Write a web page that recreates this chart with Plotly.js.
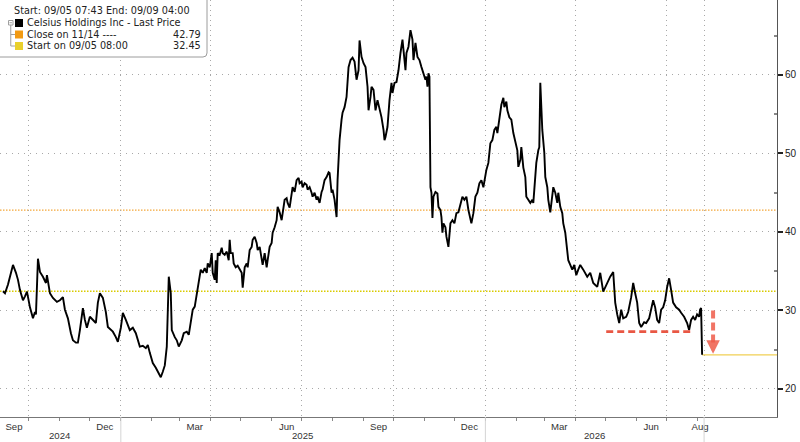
<!DOCTYPE html>
<html><head><meta charset="utf-8">
<script src="https://cdn.plot.ly/plotly-3.0.1.min.js"></script>
<style>html,body{margin:0;padding:0;background:#fff;} #chart{width:800px;height:442px;}</style>
</head><body><div id="chart"></div>
<script>
// ---- data ----
const dates = [
 '2024-09-05','2024-09-07','2024-09-10','2024-09-13','2024-09-15','2024-09-18','2024-09-20','2024-09-22','2024-09-25','2024-09-27','2024-09-29',
 '2024-10-02','2024-10-05','2024-10-07','2024-10-08','2024-10-10','2024-10-12','2024-10-15','2024-10-18','2024-10-19','2024-10-22','2024-10-25','2024-10-29',
 '2024-11-01','2024-11-04','2024-11-06','2024-11-09','2024-11-12','2024-11-14','2024-11-17','2024-11-19','2024-11-21','2024-11-24','2024-11-26','2024-11-28',
 '2024-12-01','2024-12-04','2024-12-07','2024-12-09','2024-12-11','2024-12-14','2024-12-17','2024-12-19','2024-12-22','2024-12-24','2024-12-27','2024-12-29',
 '2025-01-01','2025-01-03','2025-01-06','2025-01-10','2025-01-13','2025-01-16','2025-01-20','2025-01-23','2025-01-26','2025-01-28','2025-01-30',
 '2025-02-02','2025-02-05','2025-02-08','2025-02-10','2025-02-12','2025-02-14','2025-02-16','2025-02-18','2025-02-20','2025-02-21','2025-02-24','2025-02-26','2025-02-28',
 '2025-03-03','2025-03-05','2025-03-08','2025-03-10','2025-03-12','2025-03-14','2025-03-16','2025-03-18','2025-03-20','2025-03-22','2025-03-24','2025-03-26','2025-03-28','2025-03-29','2025-03-31',
 '2025-04-02','2025-04-03','2025-04-05','2025-04-06','2025-04-07','2025-04-08','2025-04-10','2025-04-12','2025-04-13','2025-04-15','2025-04-17','2025-04-19','2025-04-20','2025-04-21','2025-04-23','2025-04-24','2025-04-26','2025-04-28','2025-04-30',
 '2025-05-02','2025-05-03','2025-05-05','2025-05-07','2025-05-08','2025-05-10','2025-05-12','2025-05-13','2025-05-15','2025-05-17','2025-05-18','2025-05-20','2025-05-22','2025-05-23','2025-05-25','2025-05-27','2025-05-28','2025-05-30',
 '2025-06-01','2025-06-02','2025-06-04','2025-06-06','2025-06-07','2025-06-09','2025-06-11','2025-06-12','2025-06-14','2025-06-16','2025-06-17','2025-06-19','2025-06-21','2025-06-22','2025-06-24','2025-06-26','2025-06-28','2025-06-29',
 '2025-07-01','2025-07-02','2025-07-04','2025-07-06','2025-07-07','2025-07-09','2025-07-11','2025-07-12','2025-07-14','2025-07-16','2025-07-17','2025-07-19','2025-07-21','2025-07-22','2025-07-24','2025-07-26','2025-07-28','2025-07-29','2025-07-31',
 '2025-08-01','2025-08-03','2025-08-04','2025-08-05','2025-08-06','2025-08-07','2025-08-08','2025-08-10','2025-08-11','2025-08-13','2025-08-15','2025-08-17','2025-08-19','2025-08-21','2025-08-23','2025-08-25','2025-08-27','2025-08-28','2025-08-30',
 '2025-09-01','2025-09-03','2025-09-05','2025-09-06','2025-09-08','2025-09-09','2025-09-11','2025-09-13','2025-09-15','2025-09-17','2025-09-19','2025-09-21','2025-09-22','2025-09-23','2025-09-25','2025-09-27','2025-09-29','2025-09-30',
 '2025-10-02','2025-10-04','2025-10-06','2025-10-08','2025-10-10','2025-10-11','2025-10-13','2025-10-14','2025-10-16','2025-10-18','2025-10-20','2025-10-21','2025-10-23','2025-10-25','2025-10-27','2025-10-29','2025-10-31',
 '2025-11-02','2025-11-03','2025-11-04','2025-11-05','2025-11-06','2025-11-07','2025-11-08','2025-11-09','2025-11-10','2025-11-12','2025-11-14','2025-11-15','2025-11-17','2025-11-18','2025-11-19','2025-11-20','2025-11-22','2025-11-23','2025-11-25','2025-11-27','2025-11-29',
 '2025-12-01','2025-12-03','2025-12-05','2025-12-07','2025-12-09','2025-12-11','2025-12-13','2025-12-15','2025-12-17','2025-12-18','2025-12-20','2025-12-22','2025-12-24','2025-12-26','2025-12-28','2025-12-30',
 '2026-01-02','2026-01-04','2026-01-06','2026-01-08','2026-01-10','2026-01-12','2026-01-13','2026-01-15','2026-01-17','2026-01-19','2026-01-20','2026-01-22','2026-01-23','2026-01-25','2026-01-27','2026-01-29','2026-01-31',
 '2026-02-02','2026-02-03','2026-02-05','2026-02-06','2026-02-08','2026-02-10','2026-02-11','2026-02-13','2026-02-15','2026-02-17','2026-02-18','2026-02-19','2026-02-21','2026-02-23','2026-02-24','2026-02-25','2026-02-26','2026-02-27',
 '2026-03-01','2026-03-02','2026-03-04','2026-03-05','2026-03-07','2026-03-09','2026-03-10','2026-03-12','2026-03-14','2026-03-15','2026-03-17','2026-03-19','2026-03-20','2026-03-22','2026-03-24','2026-03-25','2026-03-27','2026-03-29','2026-03-31',
 '2026-04-02','2026-04-04','2026-04-06','2026-04-09','2026-04-13','2026-04-16','2026-04-19','2026-04-23','2026-04-26','2026-04-29',
 '2026-05-03','2026-05-06','2026-05-09','2026-05-11','2026-05-13','2026-05-15','2026-05-17','2026-05-19','2026-05-22','2026-05-24','2026-05-27','2026-05-29','2026-05-31',
 '2026-06-02','2026-06-04','2026-06-06','2026-06-09','2026-06-11','2026-06-14','2026-06-16','2026-06-18','2026-06-20','2026-06-22','2026-06-24','2026-06-26','2026-06-28','2026-06-30',
 '2026-07-02','2026-07-04','2026-07-06','2026-07-08','2026-07-11','2026-07-14','2026-07-16','2026-07-19','2026-07-22','2026-07-24','2026-07-26','2026-07-28','2026-07-30',
 '2026-08-01','2026-08-03','2026-08-04','2026-08-05','2026-08-06'
];
const prices = [
 32.45,32.2,33.3,34.6,35.8,34.8,33.9,32.6,31.3,31.8,32.4,
 30.4,29.0,29.8,29.5,36.6,34.9,34.3,33.5,34.5,32.2,31.6,31.1,
 31.3,31.7,30.1,29.0,27.1,26.2,25.9,25.9,27.5,30.3,28.8,27.8,
 29.2,28.8,28.4,31.0,32.2,31.6,29.8,27.9,27.5,27.3,26.6,26.0,
 27.8,29.7,28.8,27.5,27.8,27.1,25.4,25.5,25.2,25.6,24.6,
 23.3,22.7,22.0,21.5,22.2,23.0,25.4,34.3,32.2,27.5,26.6,26.2,25.4,
 26.2,27.1,27.3,26.9,28.8,30.1,30.5,32.2,33.9,35.2,34.8,35.4,34.8,36.0,35.5,
 37.3,34.8,33.9,36.4,33.5,37.3,37.1,38.0,37.3,37.1,37.5,36.4,39.0,37.3,37.3,36.0,35.5,35.7,35.2,
 34.8,32.9,35.5,36.0,35.5,37.7,38.1,39.0,39.4,38.6,37.7,38.1,36.4,35.8,37.3,35.5,36.4,38.1,
 38.6,39.9,40.6,41.5,43.2,42.5,41.5,42.4,44.1,44.3,43.7,43.1,44.5,45.7,45.1,46.6,46.9,46.2,
 46.4,45.7,46.2,46.0,45.4,45.7,45.0,44.5,45.0,44.1,44.5,43.7,45.1,45.4,46.6,47.0,47.6,47.5,45.0,
 45.4,44.1,42.8,41.9,46.6,50.1,51.7,54.3,55.2,55.9,57.2,61.0,61.9,62.2,61.7,59.4,60.6,64.4,62.3,
 61.5,61.0,58.5,55.5,57.2,58.5,58.1,55.5,56.8,55.8,54.6,53.0,51.7,52.1,53.4,56.8,59.0,57.7,
 59.0,59.1,60.6,62.8,64.5,63.2,60.6,62.8,63.6,65.7,64.5,61.9,64.1,62.3,61.9,61.0,60.2,
 59.4,59.8,58.5,60.2,59.8,45.7,45.0,41.8,44.5,45.1,44.9,43.2,42.8,41.9,39.9,41.1,40.6,39.4,38.1,41.1,41.5,
 41.1,42.4,42.5,43.7,44.5,44.1,44.5,42.8,41.5,41.1,42.4,44.5,45.0,46.2,46.6,45.7,
 47.9,48.8,51.3,51.7,53.0,53.4,52.6,54.3,56.2,57.1,55.9,56.6,55.5,54.6,54.3,52.6,51.3,
 50.4,48.3,49.2,50.8,48.2,47.0,44.5,44.1,43.7,44.1,43.7,45.4,48.8,50.4,50.8,59.0,54.3,53.0,
 50.1,47.0,45.7,44.1,42.5,45.0,45.7,45.0,43.7,45.0,43.2,42.4,41.1,39.9,37.7,36.4,35.8,35.2,35.8,
 34.5,35.2,35.8,35.2,34.3,34.8,33.5,33.0,34.8,32.4,
 33.5,34.3,34.9,31.0,29.5,28.4,30.1,29.0,29.2,29.8,31.7,33.5,32.2,
 31.0,28.4,27.9,28.5,28.4,29.0,30.1,31.3,30.4,28.8,28.4,30.1,30.4,31.3,
 33.0,34.1,32.6,31.0,30.4,30.1,29.7,29.2,28.4,27.5,28.8,29.2,28.8,
 29.5,29.2,30.1,30.3,24.35
];
const seriesName = 'Celsius Holdings Inc - Last Price';
const headerText = 'Start: 09/05 07:43 End: 09/09 04:00';
const closeLabel = 'Close on 11/14 ----';
const closeValue = 42.79;
const startLabel = 'Start on 09/05 08:00';
const startValue = 32.45;
const monthTickDates = ['2024-09-16','2024-12-16','2025-03-16','2025-06-16','2025-09-16','2025-12-16','2026-03-16','2026-06-16','2026-08-04'];
const monthTickText = ['Sep','Dec','Mar','Jun','Sep','Dec','Mar','Jun','Aug'];
const gridDates = ['2024-10-01','2025-01-01','2025-04-01','2025-07-01','2025-10-01','2026-01-01','2026-04-01','2026-07-01','2026-08-08'];
const yearLabels = ['2024','2025','2026'];
const yearCenters = ['2024-11-01','2025-07-02','2026-04-20'];
const yearBreaks = ['2025-01-01','2026-01-01','2026-08-08'];
const yTicks = [20,30,40,50,60];
const yMinor = [25,35,45,55,65];
const supportLevel = 27.3, supportStart = '2026-05-02', supportEnd = '2026-07-28';
const arrowDate = '2026-08-17', arrowFrom = 30.0, arrowTo = 24.5;
const xRange = ['2024-09-02','2026-10-20'];
const yRange = [16.43, 69.55];

// ---- layout helpers (page pixel -> paper fraction) ----
const PW = 777, PH = 417;
const px = x => x / PW;
const py = y => 1 - y / PH;

const monthStarts = [];
for (let y = 2024, m = 10; y < 2026 || (y === 2026 && m <= 8); m++) {
  if (m > 12) { m = 1; y++; }
  monthStarts.push(y + '-' + String(m).padStart(2, '0') + '-01');
}

const FONT = "'Liberation Sans','DejaVu Sans',sans-serif";
const LFONT = "'DejaVu Sans','Liberation Sans',sans-serif";
const red = 'rgba(232,78,58,0.95)';
const arrowRed = 'rgba(238,92,74,0.85)';
const lastDate = dates[dates.length - 1];
const lastPrice = prices[prices.length - 1];

const traces = [
  {x: dates, y: prices, type: 'scatter', mode: 'lines', name: seriesName,
   line: {color: '#000', width: 1.9}, hoverinfo: 'skip'},
  {x: [dates[0]], y: [null], xaxis: 'x2', yaxis: 'y', type: 'scatter', mode: 'lines', hoverinfo: 'skip', showlegend: false}
];

const shapes = [
  {type: 'line', xref: 'paper', x0: 0, x1: 1, yref: 'y', y0: closeValue, y1: closeValue, layer: 'between',
   line: {color: '#f3a73a', width: 1.3, dash: '1.5px,1.5px'}},
  {type: 'line', xref: 'paper', x0: 0, x1: 1, yref: 'y', y0: startValue, y1: startValue, layer: 'between',
   line: {color: '#d9cb00', width: 1.5, dash: '1.5px,1.5px'}},
  {type: 'line', xref: 'x', x0: lastDate, x1: xRange[1], yref: 'y', y0: lastPrice, y1: lastPrice, layer: 'between',
   line: {color: '#f0cf55', width: 1.2}},
  {type: 'line', xref: 'x', x0: supportStart, x1: supportEnd, yref: 'y', y0: supportLevel, y1: supportLevel, layer: 'above',
   line: {color: red, width: 2.6, dash: '7px,4px'}},
  {type: 'line', xref: 'x', x0: arrowDate, x1: arrowDate, yref: 'y', y0: arrowFrom, y1: arrowTo + 0.9, layer: 'above',
   line: {color: arrowRed, width: 4, dash: '8px,4px'}}
];
// year separators below the axis
yearBreaks.forEach(d => shapes.push({type: 'line', xref: 'x', x0: d, x1: d, yref: 'paper', y0: 0, y1: -25 / PH,
  line: {color: '#d4d4d4', width: 1}}));
// legend box
shapes.push({type: 'path', xref: 'paper', yref: 'paper', layer: 'above', fillcolor: '#fff',
  line: {color: '#9c9c9c', width: 1},
  path: `M ${px(-2)},${py(-2)} L ${px(207)},${py(-2)} L ${px(207)},${py(53)} Q ${px(207)},${py(57)} ${px(203)},${py(57)} L ${px(-2)},${py(57)} Z`});
const sq = (y0, color) => ({type: 'rect', xref: 'paper', yref: 'paper', layer: 'above',
  x0: px(15), x1: px(23), y0: py(y0), y1: py(y0 + 8), fillcolor: color, line: {width: 0}});
shapes.push(sq(19, '#000'), sq(30.5, '#f29a12'), sq(42, '#e9d02c'));
const tl = (x0, y0, x1, y1) => ({type: 'line', xref: 'paper', yref: 'paper', layer: 'above',
  x0: px(x0), x1: px(x1), y0: py(y0), y1: py(y1), line: {color: '#a0a0a0', width: 1}});
shapes.push({type: 'rect', xref: 'paper', yref: 'paper', layer: 'above', x0: px(8.5), x1: px(13), y0: py(20.5), y1: py(25),
  fillcolor: '#fff', line: {color: '#a0a0a0', width: 1}});
shapes.push(tl(9.5, 22.75, 12, 22.75), tl(10.75, 25, 10.75, 46), tl(10.75, 34.5, 15, 34.5), tl(10.75, 46, 15, 46));

const txt = (x, y, text, anchor) => ({xref: 'paper', yref: 'paper', x: px(x), y: py(y), text: text,
  showarrow: false, xanchor: anchor || 'left', yanchor: 'middle', borderpad: 0,
  font: {size: 9.7, color: '#222', family: LFONT}});
const annotations = [
  txt(12.5, 11, headerText),
  txt(25.5, 23, seriesName),
  txt(25.5, 34.5, closeLabel),
  txt(202, 34.5, closeValue.toFixed(2), 'right'),
  txt(25.5, 46, startLabel),
  txt(202, 46, startValue.toFixed(2), 'right'),
  {xref: 'x', yref: 'y', x: arrowDate, y: arrowTo, axref: 'x', ayref: 'y', ax: arrowDate, ay: arrowTo + 1.2,
   text: '', showarrow: true, arrowhead: 2, arrowsize: 0.75, arrowwidth: 3.6, arrowcolor: arrowRed}
];
yearLabels.forEach((t, i) => annotations.push({xref: 'x', yref: 'paper', x: yearCenters[i], y: -18 / PH,
  text: t, showarrow: false, xanchor: 'center', yanchor: 'middle', borderpad: 0,
  font: {size: 9.6, color: '#333', family: FONT}}));

const layout = {
  width: 800, height: 442,
  margin: {l: 0, r: 23, t: 0, b: 25, pad: 0},
  paper_bgcolor: '#fff', plot_bgcolor: '#fff',
  showlegend: false,
  font: {family: FONT, size: 10, color: '#222'},
  xaxis: {type: 'date', range: xRange, tickmode: 'array', tickvals: monthTickDates, ticktext: monthTickText,
    ticks: '', showgrid: false, zeroline: false, showline: true, linecolor: '#777', linewidth: 1,
    tickfont: {size: 9.6, color: '#333', family: FONT},
    minor: {tickmode: 'array', tickvals: monthStarts, ticks: 'outside', ticklen: 3, tickcolor: '#888', tickwidth: 1, showgrid: false}},
  xaxis2: {type: 'date', overlaying: 'x', range: xRange, tickmode: 'array', tickvals: gridDates,
    showticklabels: false, ticks: '', showgrid: true, gridcolor: '#a8a8a8', gridwidth: 1, griddash: '1px,4px',
    zeroline: false, showline: false},
  yaxis: {side: 'right', range: yRange, tickmode: 'array', tickvals: yTicks, ticks: 'outside', ticklen: 5, tickwidth: 2,
    tickcolor: '#222', showline: true, linecolor: '#555', linewidth: 1, showgrid: true, gridcolor: '#a8a8a8',
    gridwidth: 1, griddash: '1px,5px', zeroline: false, tickfont: {size: 10, color: '#222', family: FONT},
    minor: {tickmode: 'array', tickvals: yMinor, ticks: 'inside', ticklen: 3, tickcolor: '#888', showgrid: false}},
  shapes: shapes,
  annotations: annotations
};

Plotly.newPlot('chart', traces, layout, {staticPlot: true, displayModeBar: false});
</script>
</body></html>
